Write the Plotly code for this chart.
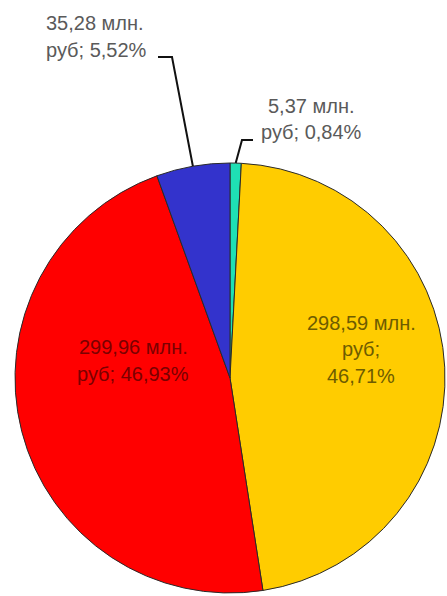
import math
import plotly.graph_objects as go

# Data (clockwise from 12 o'clock)
categories = ["A", "B", "C", "D"]
values = [5.37, 298.59, 299.96, 35.28]
percents = ["0,84%", "46,71%", "46,93%", "5,52%"]
value_text = ["5,37", "298,59", "299,96", "35,28"]
colors = ["#1FE0B4", "#FFCC00", "#FF0000", "#3333CC"]

W, H = 447, 596
CX, CY, R = 230, 378, 215

fig = go.Figure()
fig.add_trace(go.Pie(
    labels=categories, values=values, sort=False, direction="clockwise",
    rotation=0, textinfo="none", hoverinfo="none", showlegend=False,
    marker=dict(colors=colors, line=dict(color="#2a2a2a", width=1)),
    domain=dict(x=[(CX - R) / W, (CX + R) / W], y=[(H - CY - R) / H, (H - CY + R) / H]),
))

total = sum(values)
def mid_point(i):
    before = sum(values[:i]) + values[i] / 2
    ang = before / total * 2 * math.pi
    return CX + R * math.sin(ang), CY - R * math.cos(ang)

FS = 20
FONT = "Liberation Sans, Arial, sans-serif"
annotations = []
def line(text, x, baseline, color):
    annotations.append(dict(x=x, y=baseline - 0.35 * FS, xref="x", yref="y", text=text,
                            showarrow=False, font=dict(family=FONT, size=FS, color=color),
                            xanchor="center", yanchor="middle"))

grey = "#5a5a5a"
# blue label (outside)
line(value_text[3] + " млн.", 95, 30, grey)
line("руб; " + percents[3], 96, 57, grey)
# teal label (outside)
line(value_text[0] + " млн.", 311, 113, grey)
line("руб; " + percents[0], 311, 139, grey)
# yellow label (inside)
line(value_text[1] + " млн.", 361, 330, "#6e5c00")
line("руб;", 361, 356, "#6e5c00")
line(percents[1], 361, 383, "#6e5c00")
# red label (inside)
line(value_text[2] + " млн.", 133, 354, "#7a0000")
line("руб; " + percents[2], 133, 381, "#7a0000")

shapes = []
bx, by = mid_point(3)
shapes.append(dict(type="path", xref="x", yref="y",
                   path=f"M 158 57 L 172 57 L {bx:.1f} {by:.1f}",
                   line=dict(color="#111111", width=2)))
tx, ty = mid_point(0)
shapes.append(dict(type="path", xref="x", yref="y",
                   path=f"M 253 140 L 242 140 L {tx:.1f} {ty:.1f}",
                   line=dict(color="#111111", width=2)))

fig.update_layout(
    width=W, height=H, autosize=False,
    margin=dict(l=0, r=0, t=0, b=0),
    paper_bgcolor="white", plot_bgcolor="rgba(0,0,0,0)",
    xaxis=dict(range=[0, W], visible=False, fixedrange=True),
    yaxis=dict(range=[H, 0], visible=False, fixedrange=True),
    annotations=annotations, shapes=shapes,
)
fig.write_html("out.html", config={"displayModeBar": False},
               post_script="document.body.style.margin='0';document.body.style.overflow='hidden';")
